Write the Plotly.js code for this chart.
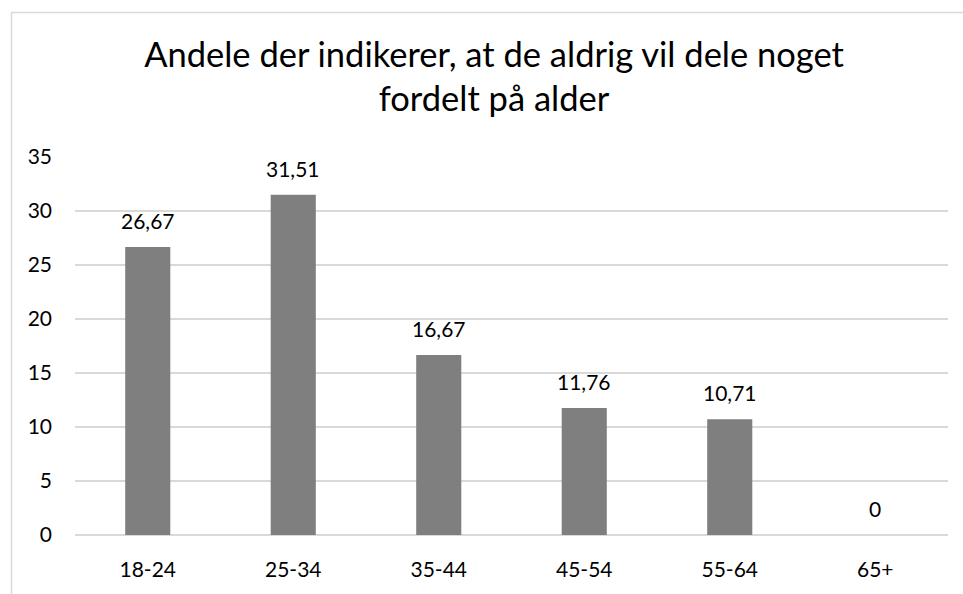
<!DOCTYPE html>
<html>
<head>
<meta charset="utf-8">
<script src="https://cdn.plot.ly/plotly-3.0.1.min.js"></script>
<style>html,body{margin:0;padding:0;background:#fff;}#chart{width:963px;height:594px;}</style>
</head>
<body>
<div id="chart"></div>
<script>
const categories = ["18-24", "25-34", "35-44", "45-54", "55-64", "65+"];
const values = [26.67, 31.51, 16.67, 11.76, 10.71, 0];
const valueLabels = ["26,67", "31,51", "16,67", "11,76", "10,71", "0"];
const yTicks = [0, 5, 10, 15, 20, 25, 30, 35];
const titleText = "Andele der indikerer, at de aldrig vil dele noget<br>fordelt på alder";

const FONT = "Lato, 'Open Sans', sans-serif";

const trace = {
  type: "bar",
  x: categories,
  y: values,
  marker: {color: "#7f7f7f"},
  hoverinfo: "none"
};

const annotations = categories.map((c, i) => ({
  x: c, y: values[i], xref: "x", yref: "y",
  text: valueLabels[i], showarrow: false,
  yanchor: "bottom", yshift: 12,
  font: {family: FONT, size: 21, color: "#000"}
}));

const layout = {
  width: 963, height: 594,
  margin: {l: 75, r: 15, t: 157, b: 59},
  paper_bgcolor: "#fff", plot_bgcolor: "#fff",
  bargap: 0.69,
  showlegend: false,
  title: {
    text: titleText,
    font: {family: FONT, size: 34.5, color: "#000", lineposition: "none"},
    x: 0.513, xanchor: "center",
    yref: "container", y: 0.888, yanchor: "top"
  },
  xaxis: {
    type: "category",
    showgrid: false, showline: false, zeroline: false,
    ticks: "", ticklen: 0,
    tickfont: {family: FONT, size: 21, color: "#000"},
    ticklabelstandoff: 20,
    fixedrange: true
  },
  yaxis: {
    range: [0, 35],
    tickvals: yTicks,
    ticktext: yTicks.map(String),
    showgrid: true, gridcolor: "#d9d9d9", gridwidth: 1.3,
    zeroline: true, zerolinecolor: "#d9d9d9", zerolinewidth: 1.3,
    showline: false, ticks: "",
    tickfont: {family: FONT, size: 21, color: "#000"},
    ticklabelstandoff: 22,
    fixedrange: true
  },
  annotations: annotations,
  shapes: [{
    type: "rect", xref: "paper", yref: "paper",
    x0: (11.5 - 75) / 873, x1: 1.2,
    y0: -0.5, y1: (535 - 12.5) / 378,
    line: {color: "#d9d9d9", width: 1.5},
    fillcolor: "rgba(0,0,0,0)", layer: "below"
  }]
};

Plotly.newPlot("chart", [trace], layout, {displayModeBar: false, staticPlot: true});
</script>
</body>
</html>
